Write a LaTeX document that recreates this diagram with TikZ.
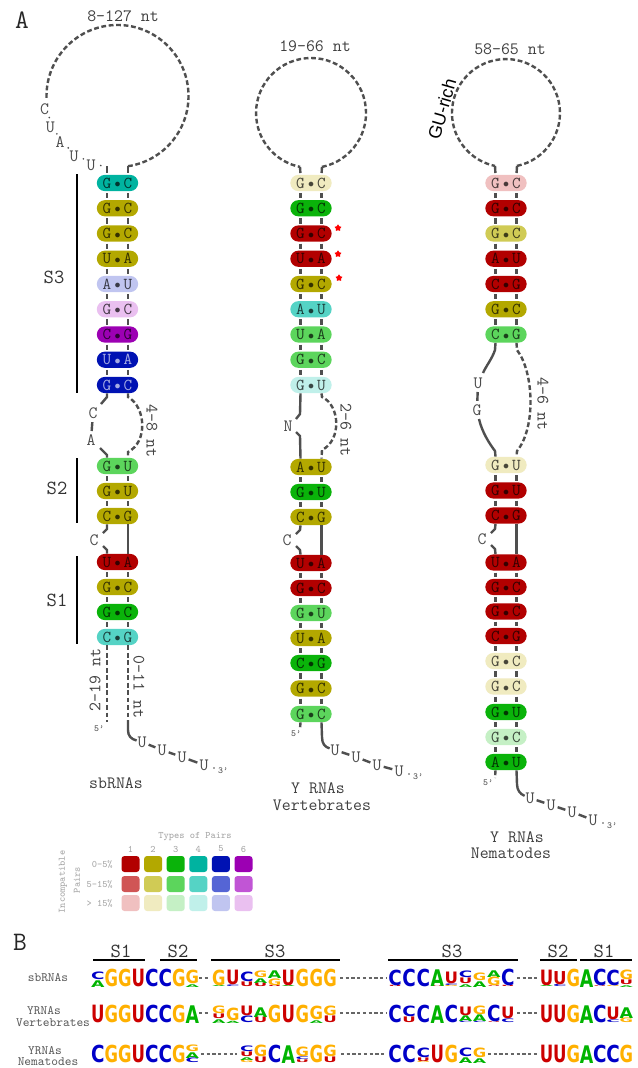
\documentclass[tikz,border=0pt]{standalone}
\usepackage{fontspec}
\usepackage{graphicx}
\newfontfamily\sansf{Liberation Sans}
\newfontfamily\logof{DejaVu Sans}
\usetikzlibrary{shapes.geometric,calc}

\definecolor{strandc}{HTML}{4F4F4F}
\definecolor{p1a}{HTML}{B20000}\definecolor{p1b}{HTML}{D05555}\definecolor{p1c}{HTML}{F0C0C0}
\definecolor{p2a}{HTML}{B3A800}\definecolor{p2b}{HTML}{D0CB55}\definecolor{p2c}{HTML}{F0EBC0}
\definecolor{p3a}{HTML}{0AB30A}\definecolor{p3b}{HTML}{5CD55C}\definecolor{p3c}{HTML}{C5F0C5}
\definecolor{p4a}{HTML}{00B3A0}\definecolor{p4b}{HTML}{55D3C5}\definecolor{p4c}{HTML}{C0F0EA}
\definecolor{p5a}{HTML}{0012B3}\definecolor{p5b}{HTML}{5565D5}\definecolor{p5c}{HTML}{C0C5F0}
\definecolor{p6a}{HTML}{9C00B3}\definecolor{p6b}{HTML}{C155D5}\definecolor{p6c}{HTML}{EAC0F0}
\definecolor{cA}{HTML}{00B400}\definecolor{cC}{HTML}{0000C8}
\definecolor{cG}{HTML}{FFB000}\definecolor{cU}{HTML}{CC0000}

\newdimen\pxu \pxu=0.75pt
\newcount\lgc
\def\sx{7.875pt}

\newcommand\bpx[2]{\hbox to 15.75pt{\hbox to 0pt{\hss#1\hss}\hss\raisebox{0.05ex}{\scalebox{0.75}{$\bullet$}}\hss\hbox to 0pt{\hss#2\hss}}}
\newcommand\pr[7][]{\node[pill,fill=#5,#1] (#2) at (#3,#4) {\bpx{#6}{#7}};}
\newcommand\LG[4]{\global\advance\lgc by 1\relax\pgfmathsetmacro\hh{max(#3-0.3,0.6)}\node[logo,text=c#4] (lg\the\lgc) at (#1,#2) {\resizebox*{10.1pt}{\hh\pxu}{#4}};}
\newcommand\COL[3]{\gdef\cy{#2}\foreach \l/\h in {#3}{\edef\tmpa{\noexpand\LG{#1}{\cy}{\h}{\l}}\tmpa\pgfmathsetmacro\tmpb{\cy-\h}\global\let\cy\tmpb}}

\tikzset{
 bb/.style={draw=strandc,line width=1.8pt},
 bbd/.style={bb,dash pattern=on 3.6pt off 2pt},
 pill/.style={rectangle,rounded corners=6.1pt,minimum width=31pt,minimum height=12.2pt,inner sep=0pt,font=\ttfamily\fontsize{12.5}{13}\selectfont,text=black,text opacity=0.7},
 pilld/.style={text=white,text opacity=0.65},
 nt/.style={font=\ttfamily\fontsize{13}{14}\selectfont,text=black!70,inner sep=0.5pt},
 sm/.style={font=\ttfamily\fontsize{7}{8}\selectfont,text=black!70,inner sep=0pt},
 lab/.style={font=\ttfamily\fontsize{13}{14}\selectfont,text=black!75,inner sep=0pt},
 slab/.style={font=\ttfamily\fontsize{15}{16}\selectfont,text=black!80,inner sep=0pt},
 panel/.style={font=\ttfamily\fontsize{20}{21}\selectfont,text=black!85,inner sep=0pt},
 brk/.style={draw=black,line width=1.9pt},
 barb/.style={draw=black,line width=2.2pt},
 sq/.style={rectangle,rounded corners=2.2pt,minimum width=13.5pt,minimum height=12pt,inner sep=0pt},
 leg/.style={font=\ttfamily\fontsize{7.4}{8}\selectfont,text=black!35,inner sep=0pt},
 rowlab/.style={font=\ttfamily\fontsize{9.6}{10}\selectfont,text=black!65,inner sep=0pt},
 logo/.style={anchor=south,inner sep=0pt,outer sep=0pt,font=\logof\bfseries},
 gapl/.style={draw=black!60,line width=0.9pt,dash pattern=on 2.4pt off 1.9pt},
 rstar/.style={star,star points=5,star point ratio=1.7,fill=red,inner sep=0pt,minimum size=5.5pt},
 tdot/.style={fill=strandc}
}

\begin{document}
\begin{tikzpicture}[x=0.75pt,y=-0.75pt]
\fill[white] (0,0) rectangle (637,1068);
\useasboundingbox (0,0) rectangle (637,1068);

\node[panel] (pA) at (22,20) {A};
\node[panel] (pB) at (20,942) {B};

% ---------------- sbRNAs column ----------------
\pr{a1}{117.5}{183}{p4a}{G}{C}
\pr{a2}{117.5}{208.25}{p2a}{G}{C}
\pr{a3}{117.5}{233.5}{p2a}{G}{C}
\pr{a4}{117.5}{258.75}{p2a}{U}{A}
\pr{a5}{117.5}{284}{p5c}{A}{U}
\pr{a6}{117.5}{309.25}{p6c}{G}{C}
\pr{a7}{117.5}{334.5}{p6a}{C}{G}
\pr[pilld]{a8}{117.5}{359.75}{p5a}{U}{A}
\pr[pilld]{a9}{117.5}{385}{p5a}{G}{C}
\pr{a10}{117.5}{466}{p3b}{G}{U}
\pr{a11}{117.5}{491}{p2a}{G}{U}
\pr{a12}{117.5}{516}{p2a}{C}{G}
\pr{a13}{117.5}{562}{p1a}{U}{A}
\pr{a14}{117.5}{587}{p2a}{G}{C}
\pr{a15}{117.5}{612}{p3a}{G}{C}
\pr{a16}{117.5}{637}{p4b}{C}{G}

% ---------------- Y RNAs vertebrates ----------------
\pr{b1}{311}{183}{p2c}{G}{C}
\pr{b2}{311}{208.25}{p3a}{G}{C}
\pr{b3}{311}{233.5}{p1a}{G}{C}
\pr{b4}{311}{258.75}{p1a}{U}{A}
\pr{b5}{311}{284}{p2a}{G}{C}
\pr{b6}{311}{309.25}{p4b}{A}{U}
\pr{b7}{311}{334.5}{p3b}{U}{A}
\pr{b8}{311}{359.75}{p3b}{G}{C}
\pr{b9}{311}{385}{p4c}{G}{U}
\pr{b10}{311}{467}{p2a}{A}{U}
\pr{b11}{311}{492}{p3a}{G}{U}
\pr{b12}{311}{517}{p2a}{C}{G}
\pr{b13}{311}{563}{p1a}{U}{A}
\pr{b14}{311}{588}{p1a}{G}{C}
\pr{b15}{311}{613}{p3b}{G}{U}
\pr{b16}{311}{638}{p2a}{U}{A}
\pr{b17}{311}{663}{p3a}{C}{G}
\pr{b18}{311}{688.5}{p2a}{G}{C}
\pr{b19}{311}{714}{p3b}{G}{C}

% ---------------- Y RNAs nematodes ----------------
\pr{c1}{506}{183}{p1c}{G}{C}
\pr{c2}{506}{208.25}{p1a}{G}{C}
\pr{c3}{506}{233.5}{p2b}{G}{C}
\pr{c4}{506}{258.75}{p1a}{A}{U}
\pr{c5}{506}{284}{p1a}{C}{G}
\pr{c6}{506}{309.25}{p2a}{G}{C}
\pr{c7}{506}{334.5}{p3b}{C}{G}
\pr{c8}{506}{465}{p2c}{G}{U}
\pr{c9}{506}{490.5}{p1a}{G}{U}
\pr{c10}{506}{515.5}{p1a}{C}{G}
\pr{c11}{506}{562.5}{p1a}{U}{A}
\pr{c12}{506}{587}{p1a}{G}{C}
\pr{c13}{506}{611.5}{p1a}{G}{C}
\pr{c14}{506}{636}{p1a}{C}{G}
\pr{c15}{506}{661}{p2c}{G}{C}
\pr{c16}{506}{686.5}{p2c}{G}{C}
\pr{c17}{506}{712}{p3a}{G}{U}
\pr{c18}{506}{737}{p3c}{G}{C}
\pr{c19}{506}{762}{p3a}{A}{U}

% stem backbones between consecutive pairs
\foreach \p/\q in {a1/a2,a2/a3,a3/a4,a4/a5,a5/a6,a6/a7,a7/a8,a8/a9,a10/a11,a11/a12,a13/a14,a14/a15,a15/a16,
 b1/b2,b2/b3,b3/b4,b4/b5,b5/b6,b6/b7,b7/b8,b8/b9,b10/b11,b11/b12,b13/b14,b14/b15,b15/b16,b16/b17,b17/b18,b18/b19,
 c1/c2,c2/c3,c3/c4,c4/c5,c5/c6,c6/c7,c8/c9,c9/c10,c11/c12,c12/c13,c13/c14,c14/c15,c15/c16,c16/c17,c17/c18,c18/c19}{
 \draw[bb,shorten <=1.2pt,shorten >=1.2pt] ([xshift=-\sx]\p.south) -- ([xshift=-\sx]\q.north);
 \draw[bb,shorten <=1.2pt,shorten >=1.2pt] ([xshift=\sx]\p.south) -- ([xshift=\sx]\q.north);
}

% ---------------- hairpin loops ----------------
\coordinate (aO) at (117.5,96);
\coordinate (aTL) at (107,166.2);
\coordinate (aTR) at (128,166.2);
\draw[bbd] (aTR) arc[start angle=81.5,end angle=-182,radius=71];
\draw[bb,shorten >=1.2pt] (aTR) -- ([xshift=\sx]a1.north);
\draw[bb,shorten >=1.2pt] (aTL) -- ([xshift=-\sx]a1.north);
\foreach \n/\a/\t in {1/170/C,2/155/U,3/141/A,4/126/U,5/111/U}
 \node[nt] (aq\n) at ($(aO)+(\a:74)$) {\t};
\foreach \a in {162.5,148,133.5,118.5,103.5}
 \fill[tdot] ($(aO)+(\a:71.5)$) circle[radius=0.7pt];
\node[lab] (aLoop) at (123,16) {8–127 nt};

\coordinate (bTL) at (300,166.9);
\coordinate (bTR) at (322,166.9);
\draw[bbd] (bTR) arc[start angle=78.5,end angle=-258.5,radius=55];
\draw[bb,shorten >=1.2pt] (bTR) -- ([xshift=\sx]b1.north);
\draw[bb,shorten >=1.2pt] (bTL) -- ([xshift=-\sx]b1.north);
\node[lab] (bLoop) at (315,46) {19–66 nt};

\coordinate (cTL) at (495,165.9);
\coordinate (cTR) at (517,165.9);
\draw[bbd] (cTR) arc[start angle=78.2,end angle=-258.2,radius=54];
\draw[bb,shorten >=1.2pt] (cTR) -- ([xshift=\sx]c1.north);
\draw[bb,shorten >=1.2pt] (cTL) -- ([xshift=-\sx]c1.north);
\node[lab] (cLoop) at (510,49) {58–65 nt};
\node[font=\sansf\fontsize{13.5}{14}\selectfont,rotate=74,inner sep=0pt] (cGU) at (442,109) {GU-rich};

% conservation stars
\node[rstar] (st1) at (338,228) {};
\node[rstar] (st2) at (338,254) {};
\node[rstar] (st3) at (339,278) {};

% ---------------- internal loops / bulges ----------------
% sbRNAs
\draw[bb] ([xshift=-\sx]a9.south) -- (107,397) -- (101,404);
\node[nt] (aC1) at (93,413) {C};
\node[nt] (aA1) at (91,440) {A};
\draw[bb,shorten <=2pt,shorten >=2pt] (aC1) -- (aA1);
\draw[bb] (100,448) -- (107,455) -- ([xshift=-\sx]a10.north);
\draw[bbd] ([xshift=\sx]a9.south) -- (128,397) .. controls (146,407) and (148,442) .. (128,452) -- ([xshift=\sx]a10.north);
\node[lab,rotate=-90] (aL1) at (152,431) {4–8 nt};
\draw[bb] ([xshift=-\sx]a12.south) -- (107,529) -- (103,533);
\node[nt] (aC2) at (94,540) {C};
\draw[bb] (103,546) -- (107,550) -- ([xshift=-\sx]a13.north);
\draw[bb] ([xshift=\sx]a12.south) -- ([xshift=\sx]a13.north);

% vertebrates
\draw[bb] ([xshift=-\sx]b9.south) -- (300,414) -- (296,419);
\node[nt] (bN) at (288,426) {N};
\draw[bb] (296,432) -- (300,436) -- ([xshift=-\sx]b10.north);
\draw[bbd] ([xshift=\sx]b9.south) -- (322,397) .. controls (340,405) and (342,440) .. (322,450) -- ([xshift=\sx]b10.north);
\node[lab,rotate=-90] (bL1) at (346,430) {2–6 nt};
\draw[bb] ([xshift=-\sx]b12.south) -- (300,530) -- (296,534);
\node[nt] (bC) at (287,540) {C};
\draw[bb] (296,546) -- (300,550) -- ([xshift=-\sx]b13.north);
\draw[bb] ([xshift=\sx]b12.south) -- ([xshift=\sx]b13.north);

% nematodes
\draw[bb] ([xshift=-\sx]c7.south) -- (495,350) .. controls (492,359) and (486,366) .. (483,373);
\node[nt] (cU1) at (478,383) {U};
\node[nt] (cG1) at (477,410) {G};
\draw[bb,shorten <=2pt,shorten >=2pt] (cU1) -- (cG1);
\draw[bb] (479,419) .. controls (482,432) and (489,443) .. (495,451) -- ([xshift=-\sx]c8.north);
\draw[bbd] ([xshift=\sx]c7.south) -- (517,350) .. controls (534,372) and (536,428) .. (517,451) -- ([xshift=\sx]c8.north);
\node[lab,rotate=-90] (cL1) at (543,404) {4–6 nt};
\draw[bb] ([xshift=-\sx]c10.south) -- (495,529) -- (491,533);
\node[nt] (cC) at (482,539) {C};
\draw[bb] (491,545) -- (495,549) -- ([xshift=-\sx]c11.north);
\draw[bb] ([xshift=\sx]c10.south) -- ([xshift=\sx]c11.north);

% ---------------- 5' / 3' ends ----------------
% sbRNAs
\draw[bbd] ([xshift=-\sx]a16.south) -- (107,722);
\node[sm] (a5p) at (99,729) {5’};
\node[lab,rotate=90] (aL2) at (95,680) {2–19 nt};
\draw[bbd] ([xshift=\sx]a16.south) -- (128,720);
\node[lab,rotate=-90] (aL3) at (139,687) {0–11 nt};
\node[nt] (au1) at (142,742) {U};
\node[nt] (au2) at (162,750) {U};
\node[nt] (au3) at (182,757) {U};
\node[nt] (au4) at (204,765) {U};
\draw[bb] (128,720) -- (128,730) .. controls (128,736) and (131,739) .. (au1);
\foreach \p/\q in {au1/au2,au2/au3,au3/au4} \draw[bb,shorten <=1pt,shorten >=1pt] (\p) -- (\q);
\fill[tdot] (214,768) circle[radius=0.7pt];
\node[sm] (a3p) at (223,771) {3’};
\node[lab] (aT) at (116,783) {sbRNAs};

% vertebrates
\draw[bbd] ([xshift=-\sx]b19.south) -- (300,729);
\node[sm] (b5p) at (296,734) {5’};
\node[nt] (bu1) at (335,750) {U};
\node[nt] (bu2) at (356,757) {U};
\node[nt] (bu3) at (377,765) {U};
\node[nt] (bu4) at (399,771) {U};
\draw[bb] ([xshift=\sx]b19.south) -- (322,737) .. controls (322,744) and (325,747) .. (bu1);
\foreach \p/\q in {bu1/bu2,bu2/bu3,bu3/bu4} \draw[bb,shorten <=1pt,shorten >=1pt] (\p) -- (\q);
\fill[tdot] (409,774) circle[radius=0.7pt];
\node[sm] (b3p) at (418,777) {3’};
\node[lab] (bT1) at (318,788) {Y RNAs};
\node[lab] (bT2) at (322,805) {Vertebrates};

% nematodes
\draw[bbd] ([xshift=-\sx]c19.south) -- (495,778);
\node[sm] (c5p) at (488,783) {5’};
\node[nt] (cu1) at (530,798) {U};
\node[nt] (cu2) at (551,805) {U};
\node[nt] (cu3) at (572,812) {U};
\node[nt] (cu4) at (593,820) {U};
\draw[bb] ([xshift=\sx]c19.south) -- (517,784) .. controls (517,790) and (520,794) .. (cu1);
\foreach \p/\q in {cu1/cu2,cu2/cu3,cu3/cu4} \draw[bb,shorten <=1pt,shorten >=1pt] (\p) -- (\q);
\fill[tdot] (603,823) circle[radius=0.7pt];
\node[sm] (c3p) at (612,826) {3’};
\node[lab] (cT1) at (517,837) {Y RNAs};
\node[lab] (cT2) at (511,853) {Nematodes};

% ---------------- stem brackets ----------------
\draw[brk] (77,174) -- (77,393);
\node[slab] (sS3) at (54,277) {S3};
\draw[brk] (77,458) -- (77,523);
\node[slab] (sS2) at (57,488) {S2};
\draw[brk] (77,556) -- (77,644);
\node[slab] (sS1) at (57,600) {S1};

% ---------------- legend ----------------
\node[leg] (kT) at (195,837) {Types of Pairs};
\foreach \i in {1,...,6}{
 \pgfmathsetmacro\xx{130.5+22.6*(\i-1)}
 \node[leg] (kn\i) at (\xx,849) {\i};
 \node[sq,fill=p\i a] (ka\i) at (\xx,864) {};
 \node[sq,fill=p\i b] (kb\i) at (\xx,884) {};
 \node[sq,fill=p\i c] (kc\i) at (\xx,903) {};
}
\node[leg,anchor=east] (kr1) at (113,864) {0–5\%};
\node[leg,anchor=east] (kr2) at (113,884) {5–15\%};
\node[leg,anchor=east] (kr3) at (113,903) {> 15\%};
\node[leg,rotate=90] (kI) at (63,882) {Incompatible};
\node[leg,rotate=90] (kP) at (77,880) {Pairs};

% ---------------- panel B ----------------
\draw[barb] (93,960) -- (145,960);   \node[slab] (bS1a) at (121,951) {S1};
\draw[barb] (160,960) -- (197,960);  \node[slab] (bS2a) at (178,951) {S2};
\draw[barb] (211,960) -- (340,960);  \node[slab] (bS3a) at (275,951) {S3};
\draw[barb] (388,960) -- (518,960);  \node[slab] (bS3b) at (452,951) {S3};
\draw[barb] (540,960) -- (577,960);  \node[slab] (bS2b) at (558,951) {S2};
\draw[barb] (580,960) -- (632,960);  \node[slab] (bS1b) at (604,951) {S1};

\node[rowlab] (r1) at (48,978) {sbRNAs};
\node[rowlab] (r2a) at (44,1011) {YRNAs};
\node[rowlab] (r2b) at (53,1023) {Vertebrates};
\node[rowlab] (r3a) at (45,1050.5) {YRNAs};
\node[rowlab] (r3b) at (48,1061.5) {Nematodes};

% gaps
\draw[gapl] (199,978) -- (210,978);
\draw[gapl] (340,978) -- (386,978);
\draw[gapl] (517,978) -- (539,978);
\draw[gapl] (199,1013) -- (210,1013);
\draw[gapl] (340,1013) -- (386,1013);
\draw[gapl] (517,1013) -- (539,1013);
\draw[gapl] (201,1054) -- (237,1054);
\draw[gapl] (341,1054) -- (386,1054);
\draw[gapl] (488,1054) -- (538,1054);

% row 1 sbRNAs
\COL{97.75}{987}{A/7,C/8}
\COL{111.25}{987}{G/18}
\COL{124.75}{987}{G/18}
\COL{138.25}{987}{U/18}
\COL{151.75}{987}{C/18}
\COL{165.25}{987}{C/18}
\COL{178.75}{987}{G/18}
\COL{192.25}{987}{A/3,G/14}
\COL{218.95}{987}{A/1.5,G/16}
\COL{232.85}{987}{C/2,U/15}
\COL{246.75}{987}{U/5,C/10}
\COL{260.65}{987}{U/4,A/5,G/7}
\COL{274.55}{987}{U/1.5,G/7,A/8}
\COL{288.45}{987}{A/1.5,U/16}
\COL{302.35}{987}{G/18}
\COL{316.25}{987}{G/18}
\COL{330.15}{987}{G/18}
\COL{395.05}{987}{U/1.5,C/16}
\COL{409.15}{987}{C/18}
\COL{423.25}{987}{C/18}
\COL{437.35}{987}{U/1,A/17}
\COL{451.45}{987}{G/1.5,C/2,U/12}
\COL{465.55}{987}{A/3,U/6,C/7}
\COL{479.65}{987}{A/6,G/8}
\COL{493.75}{987}{U/1,G/9,A/7}
\COL{507.85}{987}{U/1.5,C/17}
\COL{546.65}{987}{A/1.5,U/16}
\COL{559.95}{987}{C/2.5,U/13.5}
\COL{573.25}{987}{G/18}
\COL{586.55}{987}{A/18}
\COL{599.85}{987}{U/1,C/17}
\COL{613.15}{987}{G/1.5,C/16}
\COL{626.45}{987}{A/2,U/5,G/10}

% row 2 vertebrates
\COL{97.75}{1023}{U/18}
\COL{111.25}{1023}{G/18}
\COL{124.75}{1023}{G/18}
\COL{138.25}{1023}{U/18}
\COL{151.75}{1023}{C/18}
\COL{165.25}{1023}{C/18}
\COL{178.75}{1023}{G/18}
\COL{192.25}{1023}{A/18}
\COL{218.95}{1023}{A/4,U/5,G/8}
\COL{232.85}{1023}{A/2.5,G/13}
\COL{246.75}{1023}{C/7,U/10}
\COL{260.65}{1023}{U/6,A/10}
\COL{274.55}{1023}{G/18}
\COL{288.45}{1023}{U/18}
\COL{302.35}{1023}{G/18}
\COL{316.25}{1023}{A/3,G/14}
\COL{330.15}{1023}{U/7,G/10}
\COL{395.05}{1023}{C/18}
\COL{409.15}{1023}{U/6,C/11}
\COL{423.25}{1023}{C/18}
\COL{437.35}{1023}{A/18}
\COL{451.45}{1023}{C/18}
\COL{465.55}{1023}{C/1.5,A/6,U/9}
\COL{479.65}{1023}{C/1.5,A/7,G/9}
\COL{493.75}{1023}{U/1,C/17}
\COL{507.85}{1023}{C/4,U/12}
\COL{546.65}{1023}{U/18}
\COL{559.95}{1023}{U/18}
\COL{573.25}{1023}{G/18}
\COL{586.55}{1023}{A/18}
\COL{599.85}{1023}{C/18}
\COL{613.15}{1023}{C/3,U/13}
\COL{626.45}{1023}{G/5,A/11}

% row 3 nematodes
\COL{97.75}{1063}{C/18}
\COL{111.25}{1063}{G/18}
\COL{124.75}{1063}{G/18}
\COL{138.25}{1063}{U/18}
\COL{151.75}{1063}{C/18}
\COL{165.25}{1063}{C/18}
\COL{178.75}{1063}{G/18}
\COL{192.25}{1063}{C/5,A/6,G/7}
\COL{246.75}{1063}{G/3,A/3,U/5,C/6}
\COL{260.65}{1063}{U/6,G/12}
\COL{274.55}{1063}{C/18}
\COL{288.45}{1063}{A/18}
\COL{302.35}{1063}{U/3,C/3,G/10}
\COL{316.25}{1063}{G/18}
\COL{330.15}{1063}{U/6,G/12}
\COL{395.05}{1063}{C/18}
\COL{409.15}{1063}{C/18}
\COL{423.25}{1063}{G/1.5,U/4,C/10}
\COL{437.35}{1063}{U/18}
\COL{451.45}{1063}{G/18}
\COL{465.55}{1063}{A/6,C/9}
\COL{479.65}{1063}{A/5,G/10}
\COL{546.65}{1063}{U/18}
\COL{559.95}{1063}{U/18}
\COL{573.25}{1063}{G/18}
\COL{586.55}{1063}{A/18}
\COL{599.85}{1063}{C/18}
\COL{613.15}{1063}{C/18}
\COL{626.45}{1063}{G/18}
\end{tikzpicture}
\end{document}
